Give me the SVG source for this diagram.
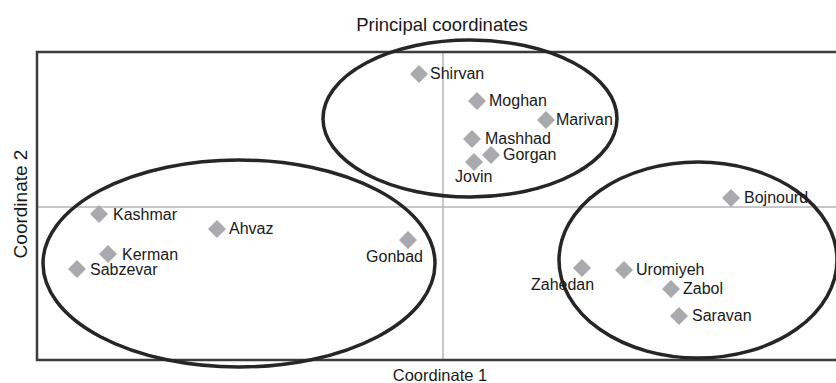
<svg xmlns="http://www.w3.org/2000/svg" width="836" height="383" viewBox="0 0 836 383">
<style>
text{font-family:"Liberation Sans",Arial,sans-serif;fill:#1a1a1a}
.lbl{font-size:16px}
.pt{fill:#a9aaae}
.frame{fill:none;stroke:#3c3c3c;stroke-width:2.5}
.axis{stroke:#b4b4b4;stroke-width:1.5}
.cl{fill:none;stroke:#262626;stroke-width:3.5}
</style>
<defs>
<polygon id="d" points="0,-9 9,0 0,9 -9,0" class="pt"/>
</defs>
<rect width="836" height="383" fill="#ffffff"/>
<text x="442" y="31" font-size="18.5" text-anchor="middle">Principal coordinates</text>
<text x="440" y="381" font-size="16.5" text-anchor="middle">Coordinate 1</text>
<text transform="translate(27,204) rotate(-90)" font-size="19" text-anchor="middle">Coordinate 2</text>
<g id="axes">
<line class="axis" x1="443" y1="52" x2="443" y2="360"/>
<line class="axis" x1="37" y1="207" x2="836" y2="207"/>
<path class="frame" d="M838,52 H37 V360 H838"/>
</g>
<g id="clusters">
<ellipse class="cl" cx="470" cy="118.5" rx="147" ry="78.5"/>
<ellipse class="cl" cx="239" cy="263.5" rx="196" ry="103.5"/>
<ellipse class="cl" cx="698" cy="260" rx="139" ry="98"/>
</g>
<g id="Shirvan"><use href="#d" x="419" y="74"/><text class="lbl" x="430" y="79">Shirvan</text></g>
<g id="Moghan"><use href="#d" x="477" y="101"/><text class="lbl" x="489" y="106">Moghan</text></g>
<g id="Marivan"><use href="#d" x="546" y="120"/><text class="lbl" x="556" y="125">Marivan</text></g>
<g id="Mashhad"><use href="#d" x="472" y="139"/><text class="lbl" x="485" y="144">Mashhad</text></g>
<g id="Gorgan"><use href="#d" x="491" y="155"/><text class="lbl" x="503" y="160">Gorgan</text></g>
<g id="Jovin"><use href="#d" x="474" y="162"/><text class="lbl" x="455" y="182">Jovin</text></g>
<g id="Kashmar"><use href="#d" x="99" y="214"/><text class="lbl" x="113" y="220">Kashmar</text></g>
<g id="Ahvaz"><use href="#d" x="217" y="229"/><text class="lbl" x="229" y="234">Ahvaz</text></g>
<g id="Kerman"><use href="#d" x="108" y="254"/><text class="lbl" x="122" y="260">Kerman</text></g>
<g id="Sabzevar"><use href="#d" x="77" y="269"/><text class="lbl" x="90" y="275">Sabzevar</text></g>
<g id="Gonbad"><use href="#d" x="408" y="240"/><text class="lbl" x="423" y="262" text-anchor="end">Gonbad</text></g>
<g id="Bojnourd"><use href="#d" x="731" y="198"/><text class="lbl" x="744" y="203">Bojnourd</text></g>
<g id="Zahedan"><use href="#d" x="582" y="268"/><text class="lbl" x="531" y="290">Zahedan</text></g>
<g id="Uromiyeh"><use href="#d" x="624" y="270"/><text class="lbl" x="636" y="275">Uromiyeh</text></g>
<g id="Zabol"><use href="#d" x="671" y="289"/><text class="lbl" x="683" y="294">Zabol</text></g>
<g id="Saravan"><use href="#d" x="679" y="316"/><text class="lbl" x="692" y="321">Saravan</text></g>
<g id="connectors"></g>
</svg>
